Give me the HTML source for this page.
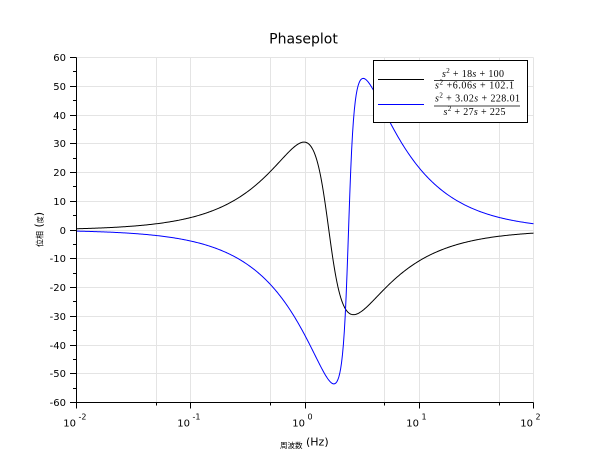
<!DOCTYPE html>
<html><head><meta charset="utf-8"><style>
html,body{margin:0;padding:0;background:#fff;}
svg{display:block;}
.t{font-family:"DejaVu Sans","Liberation Sans",sans-serif;fill:#000;}
.m{font-family:"Liberation Serif","DejaVu Serif",serif;fill:#000;}
</style></head><body>
<svg id="s" width="610" height="460" viewBox="0 0 610 460" xmlns="http://www.w3.org/2000/svg">
<rect width="610" height="460" fill="#fff"/>
<g id="grid" stroke="#e4e4e4" stroke-width="1" shape-rendering="crispEdges"></g>
<g id="curves" fill="none" stroke-width="1"></g>
<g id="axes" stroke="#000" stroke-width="1" shape-rendering="crispEdges"></g>
<g id="labels"></g>
<text class="t" x="303.5" y="43.3" font-size="14" text-anchor="middle">Phaseplot</text>
<text class="t" x="280" y="448" font-size="11"><tspan font-family="'Noto Sans CJK JP',sans-serif" font-size="7.5">周波数</tspan><tspan dy="-2.5"> (Hz)</tspan></text>
<text class="t" transform="translate(42.5,247) rotate(-90)" x="0" y="0" font-size="11"><tspan font-family="'Noto Sans CJK JP',sans-serif" font-size="8">位相</tspan><tspan> (</tspan><tspan font-family="'Noto Sans CJK JP',sans-serif" font-size="7">度</tspan><tspan>)</tspan></text>
<!-- legend -->
<rect x="373.5" y="60.5" width="154" height="62" fill="#fff" stroke="#000" stroke-width="1" shape-rendering="crispEdges"/>
<line x1="378" y1="79.5" x2="424" y2="79.5" stroke="#000" stroke-width="1"/>
<line x1="378" y1="104.5" x2="424" y2="104.5" stroke="#0000ff" stroke-width="1"/>
<text class="m" x="442" y="77" font-size="10" textLength="62" lengthAdjust="spacing"><tspan font-style="italic">s</tspan><tspan font-size="7" dy="-4">2</tspan><tspan dy="4"> + 18</tspan><tspan font-style="italic">s</tspan><tspan> + 100</tspan></text>
<line x1="434" y1="80.5" x2="514" y2="80.5" stroke="#000" stroke-width="0.7"/>
<text class="m" x="435" y="88.5" font-size="10" textLength="79" lengthAdjust="spacing"><tspan font-style="italic">s</tspan><tspan font-size="7" dy="-4">2</tspan><tspan dy="4"> +6.06</tspan><tspan font-style="italic">s</tspan><tspan> + 102.1</tspan></text>
<text class="m" x="435" y="101.5" font-size="10" textLength="85" lengthAdjust="spacing"><tspan font-style="italic">s</tspan><tspan font-size="7" dy="-4">2</tspan><tspan dy="4"> + 3.02</tspan><tspan font-style="italic">s</tspan><tspan> + 228.01</tspan></text>
<line x1="434" y1="106" x2="520" y2="106" stroke="#000" stroke-width="0.7"/>
<text class="m" x="443.5" y="115" font-size="10" textLength="62" lengthAdjust="spacing"><tspan font-style="italic">s</tspan><tspan font-size="7" dy="-4">2</tspan><tspan dy="4"> + 27</tspan><tspan font-style="italic">s</tspan><tspan> + 225</tspan></text>
</svg>
<script>
(function(){
var NS="http://www.w3.org/2000/svg";
var X0=76.5,X1=533.5,Y0=57.5,Y1=402.5;
function fx(f){return X0+(Math.log10(f)+2)/4*(X1-X0);}
function py(p){return Y0+(60-p)/120*(Y1-Y0);}
function el(tag,attrs,parent,txt){var e=document.createElementNS(NS,tag);for(var k in attrs)e.setAttribute(k,attrs[k]);if(txt!==undefined)e.textContent=txt;parent.appendChild(e);return e;}
var grid=document.getElementById("grid"),axes=document.getElementById("axes"),labels=document.getElementById("labels"),curves=document.getElementById("curves");
// horizontal grid
for(var v=-50;v<=60;v+=10){var y=Math.round(py(v)-0.5)+0.5;el("line",{x1:X0,y1:y,x2:X1,y2:y},grid);}
// vertical grid
for(var k=-2;k<=2;k++){
  var x=Math.round(fx(Math.pow(10,k))-0.5)+0.5;if(k>-2)el("line",{x1:x,y1:Y0,x2:x,y2:Y1},grid);
  if(k<2){var x5=Math.round(fx(5*Math.pow(10,k))-0.5)+0.5;el("line",{x1:x5,y1:Y0,x2:x5,y2:Y1},grid);}
}
// axes
el("line",{x1:X0,y1:Y0,x2:X0,y2:Y1},axes);
el("line",{x1:X0,y1:Y1,x2:X1,y2:Y1},axes);
for(var v=-60;v<=60;v+=5){var y=Math.round(py(v)-0.5)+0.5;var major=(v%10===0);
  el("line",{x1:major?70:73,y1:y,x2:X0,y2:y},axes);
  if(major){el("text",{"class":"t",x:66,y:y+3.5,"font-size":"10","text-anchor":"end"},labels,String(v));}
}
for(var k=-2;k<=2;k++){
  var x=Math.round(fx(Math.pow(10,k))-0.5)+0.5;
  el("line",{x1:x,y1:Y1,x2:x,y2:Y1+6},axes);
  if(k<2){var x5=Math.round(fx(5*Math.pow(10,k))-0.5)+0.5;el("line",{x1:x5,y1:Y1,x2:x5,y2:Y1+3},axes);}
  el("text",{"class":"t",x:x-0.5,y:426.5,"font-size":"10","text-anchor":"end"},labels,"10");
  el("text",{"class":"t",x:x+2,y:419.5,"font-size":"8"},labels,String(k));
}
function phase(n1,n0,d1,d0,f){var w=2*Math.PI*f;return (Math.atan2(n1*w,n0-w*w)-Math.atan2(d1*w,d0-w*w))*180/Math.PI;}
function curve(n1,n0,d1,d0,color){
  var N=500,pts=[];
  for(var i=0;i<=N;i++){var f=Math.pow(10,-2+4*i/N);pts.push(fx(f).toFixed(2)+","+py(phase(n1,n0,d1,d0,f)).toFixed(2));}
  el("polyline",{points:pts.join(" "),stroke:color},curves);
}
curve(18,100,6.06,102.1,"#000");
curve(3.02,228.01,27,225,"#0000ff");
})();
</script>
</body></html>
